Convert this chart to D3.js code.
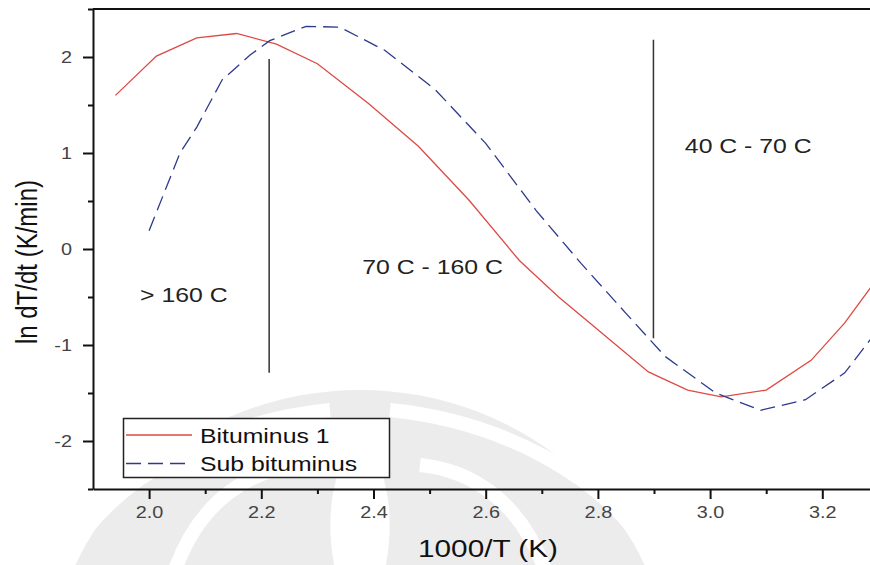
<!DOCTYPE html>
<html>
<head>
<meta charset="utf-8">
<script src="https://cdn.jsdelivr.net/npm/d3@7"></script>
<style>
  body { margin: 0; background: #fff; }
  svg { display: block; font-family: "Liberation Sans", Arial, sans-serif; }
</style>
</head>
<body>
<div class="chart"></div>
<script>
/* DATA */
var bitX = [1.94, 2.013, 2.085, 2.156, 2.227, 2.30, 2.39, 2.48, 2.57, 2.66, 2.73, 2.80, 2.89, 2.96, 3.02, 3.10, 3.18, 3.24, 3.29];
var bitY = [1.60, 2.01, 2.20, 2.245, 2.135, 1.93, 1.52, 1.07, 0.51, -0.12, -0.50, -0.84, -1.28, -1.47, -1.54, -1.47, -1.16, -0.77, -0.37];
var subX = [2.00, 2.055, 2.085, 2.13, 2.18, 2.215, 2.28, 2.34, 2.42, 2.51, 2.60, 2.69, 2.77, 2.85, 2.92, 3.01, 3.09, 3.17, 3.24, 3.29];
var subY = [0.19, 1.00, 1.27, 1.76, 2.02, 2.17, 2.32, 2.31, 2.07, 1.66, 1.10, 0.40, -0.15, -0.67, -1.12, -1.50, -1.68, -1.57, -1.29, -0.91];
var seriesNames = ["Bituminus 1", "Sub bituminus"];
var xTicks = [2.0, 2.2, 2.4, 2.6, 2.8, 3.0, 3.2];
var xMinor = [2.1, 2.3, 2.5, 2.7, 2.9, 3.1];
var yTicks = [-2, -1, 0, 1, 2];
var yMinor = [-2.5, -1.5, -0.5, 0.5, 1.5, 2.5];
var dividerX = [2.214, 2.899];
var dividerTop = [1.98, 2.18];
var dividerBottom = [-1.29, -0.93];
var zoneLabels = ["> 160 C", "70 C - 160 C", "40 C - 70 C"];
var zoneLabelX = [1.984, 2.38, 2.955];
var zoneLabelY = [-0.55, -0.26, 0.995];

var W = 870, H = 565;
var STRETCH = 1.24; // picture is stretched sideways

var svg = d3.select(".chart").append("svg")
    .attr("width", W)
    .attr("height", H);

/*faint watermark behind the chart*/
var wm = svg.append("g").attr("fill", "#ececec");
wm.append("ellipse").attr("cx", 360).attr("cy", 680).attr("rx", 310).attr("ry", 290);
var wmw = svg.append("g").attr("fill", "none").attr("stroke", "#fff").attr("stroke-width", 14);
wmw.append("path").attr("d", "M175,570 C200,500 250,470 300,465");
wmw.append("path").attr("d", "M545,570 C520,500 470,470 420,465");
wmw.append("path").attr("d", "M60,570 C110,470 230,420 330,410");
wmw.append("path").attr("d", "M660,570 C610,470 490,420 390,410");
svg.append("path").attr("fill", "#fff")
    .attr("d", "M360,430 C330,470 325,520 335,570 L385,570 C395,520 390,470 360,430 Z");

var x = d3.scaleLinear().domain([1.9, 3.3]).range([93, 878.4]);
var y = d3.scaleLinear().domain([-2.5, 2.5]).range([489, 9]);

/*axes*/
svg.append("g")
    .attr("transform", "translate(0," + y(-2.5) + ")")
    .call(d3.axisBottom(x).tickValues(xTicks).tickSize(10).tickPadding(8)
        .tickSizeOuter(0).tickFormat(d3.format(".1f")));
svg.append("g")
    .attr("transform", "translate(0," + y(-2.5) + ")")
    .call(d3.axisBottom(x).tickValues(xMinor).tickSize(5).tickSizeOuter(0).tickFormat(""))
    .select(".domain").remove();

svg.append("g")
    .attr("transform", "translate(" + x(1.9) + ",0)")
    .call(d3.axisLeft(y).tickValues(yTicks).tickSize(10).tickPadding(7)
        .tickSizeOuter(0).tickFormat(function(d) { return String(d); }));
svg.append("g")
    .attr("transform", "translate(" + x(1.9) + ",0)")
    .call(d3.axisLeft(y).tickValues(yMinor).tickSize(5).tickSizeOuter(0).tickFormat(""))
    .select(".domain").remove();

svg.selectAll(".domain, .tick line")
    .attr("stroke", "#111")
    .attr("stroke-width", 2);
svg.selectAll(".tick text")
    .attr("fill", "#444")
    .style("font-size", "16px")
    .style("font-family", "'Liberation Sans', Arial, sans-serif")
    .attr("transform", "scale(" + STRETCH + ",1)");

/*top frame line*/
svg.append("line")
    .attr("x1", x(1.9)).attr("x2", W)
    .attr("y1", y(2.5)).attr("y2", y(2.5))
    .attr("stroke", "#111").attr("stroke-width", 2);

/*curves*/
var line = d3.line()
    .x(function(d) { return x(d[0]); })
    .y(function(d) { return y(d[1]); });

var bitData = bitX.map(function(v, i) { return [v, bitY[i]]; });
var subData = subX.map(function(v, i) { return [v, subY[i]]; });

svg.append("path")
    .datum(bitData)
    .attr("d", line)
    .attr("fill", "none")
    .attr("stroke", "#dd4a45")
    .attr("stroke-width", 1.3);

svg.append("path")
    .datum(subData)
    .attr("d", line)
    .attr("fill", "none")
    .attr("stroke", "#2d3a8c")
    .attr("stroke-width", 1.3)
    .attr("stroke-dasharray", "15,7");

/*zone dividers*/
dividerX.forEach(function(v, i) {
  svg.append("line")
      .attr("x1", x(v)).attr("x2", x(v))
      .attr("y1", y(dividerTop[i])).attr("y2", y(dividerBottom[i]))
      .attr("stroke", "#333")
      .attr("stroke-width", 1.5);
});

zoneLabels.forEach(function(t, i) {
  svg.append("text")
      .attr("transform", "translate(" + x(zoneLabelX[i]) + "," + y(zoneLabelY[i]) + ") scale(" + STRETCH + ",1)")
      .attr("font-size", 20)
      .attr("fill", "#222")
      .text(t);
});

/*axis titles*/
svg.append("text")
    .attr("transform", "translate(488,557) scale(" + STRETCH + ",1)")
    .attr("text-anchor", "middle")
    .attr("font-size", 24)
    .attr("fill", "#111")
    .text("1000/T (K)");

svg.append("text")
    .attr("transform", "translate(37,262) rotate(-90) scale(1," + STRETCH + ")")
    .attr("text-anchor", "middle")
    .attr("font-size", 24)
    .attr("fill", "#111")
    .text("ln dT/dt (K/min)");

/*legend*/
var legend = svg.append("g");
legend.append("rect")
    .attr("x", 123.5).attr("y", 418.5)
    .attr("width", 266).attr("height", 59)
    .attr("fill", "#fff")
    .attr("stroke", "#222")
    .attr("stroke-width", 1.5);

var legColors = ["#dd4a45", "#2d3a8c"];
var legDash = [null, "15,7"];
seriesNames.forEach(function(n, i) {
  var ly = 435 + i * 28.5;
  legend.append("line")
      .attr("x1", 126).attr("x2", 192)
      .attr("y1", ly).attr("y2", ly)
      .attr("stroke", legColors[i])
      .attr("stroke-width", 1.3)
      .attr("stroke-dasharray", legDash[i]);
  legend.append("text")
      .attr("transform", "translate(200," + (ly + 7.5) + ") scale(" + STRETCH + ",1)")
      .attr("font-size", 20)
      .attr("fill", "#111")
      .text(n);
});
</script>
</body>
</html>
